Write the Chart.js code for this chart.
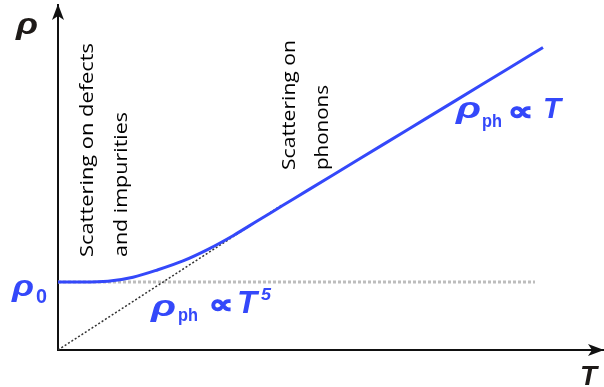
<!DOCTYPE html>
<html>
<head>
<meta charset="utf-8">
<script src="https://cdn.jsdelivr.net/npm/chart.js@4"></script>
<style>
  html, body { margin: 0; padding: 0; background: #fff; }
  #wrap { width: 604px; height: 387px; }
</style>
</head>
<body>
<div id="wrap"><canvas id="rho"></canvas></div>
<script>
// --- Data (arbitrary units) ---
const temps = [0, 0.5, 1.0, 1.5, 2.0, 2.5, 3.0, 3.5, 4.0, 4.5, 5.0, 6.0, 7.0, 8.0, 9.0, 9.7];
const rhoTotal = [1.0, 1.0, 1.01, 1.07, 1.18, 1.31, 1.48, 1.68, 1.903, 2.126, 2.349, 2.795, 3.241, 3.687, 4.134, 4.446];
const asymT = [0, 4.5];
const asymRho = [0, 2.14];
const residT = [0, 9.54];
const residRho = [1, 1];
const T_MAX = 10.9;
const RHO_MAX = 5.07;

const BLUE = 'rgb(52, 72, 250)';
const pts = (xs, ys) => xs.map((x, i) => ({ x: x, y: ys[i] }));

// text squeezed or stretched to a given advance width
function fitText(ctx, text, font, x, y, width, angle, stroke) {
    ctx.save();
    ctx.font = font;
    const sx = width / ctx.measureText(text).width;
    ctx.translate(x, y);
    if (angle) ctx.rotate(angle);
    ctx.scale(sx, 1);
    ctx.fillText(text, 0, 0);
    if (stroke) {
        ctx.strokeStyle = ctx.fillStyle;
        ctx.lineWidth = stroke;
        ctx.strokeText(text, 0, 0);
    }
    ctx.restore();
}

const RHO_FONT = 'italic bold 30px "Liberation Sans"';
const T_FONT = 'italic bold 31px "Liberation Sans"';
const SUB_FONT = 'bold 18px "Liberation Sans"';
const PROP_FONT = 'bold 26px "DejaVu Sans"';

const labelsPlugin = {
    id: 'labels',
    afterDraw(chart) {
        const ctx = chart.ctx;
        const area = chart.chartArea;
        const x0 = area.left, y0 = area.bottom;
        ctx.save();

        // axis arrows
        ctx.fillStyle = '#111';
        ctx.beginPath();
        ctx.moveTo(x0, area.top - 1);
        ctx.lineTo(x0 - 6, area.top + 15);
        ctx.lineTo(x0, area.top + 11);
        ctx.lineTo(x0 + 6, area.top + 15);
        ctx.closePath();
        ctx.fill();
        ctx.beginPath();
        ctx.moveTo(area.right + 1, y0);
        ctx.lineTo(area.right - 15, y0 - 6);
        ctx.lineTo(area.right - 11, y0);
        ctx.lineTo(area.right - 15, y0 + 6);
        ctx.closePath();
        ctx.fill();

        // axis names
        ctx.textBaseline = 'alphabetic';
        ctx.fillStyle = '#1e1a18';
        fitText(ctx, 'ρ', RHO_FONT, 16, 34, 22);
        fitText(ctx, 'T', 'italic bold 28px "Liberation Sans"', 580, 385, 17);

        // blue formula labels
        ctx.fillStyle = BLUE;
        fitText(ctx, 'ρ', RHO_FONT, 12, 296, 22);
        fitText(ctx, '0', 'bold 20px "Liberation Sans"', 36, 303, 11);

        fitText(ctx, 'ρ', RHO_FONT, 151, 316, 25);
        fitText(ctx, 'ph', SUB_FONT, 178, 321, 20);
        fitText(ctx, '∝', PROP_FONT, 209, 313, 24, 0, 1.2);
        fitText(ctx, 'T', T_FONT, 237, 313, 20);
        fitText(ctx, '5', 'italic bold 16px "Liberation Sans"', 261, 300, 10);

        fitText(ctx, 'ρ', RHO_FONT, 456, 118, 25);
        fitText(ctx, 'ph', SUB_FONT, 482, 127, 20);
        fitText(ctx, '∝', PROP_FONT, 508, 120, 25, 0, 1.2);
        fitText(ctx, 'T', 'italic bold 30px "Liberation Sans"', 543, 118, 18);

        // regime captions, rotated
        ctx.fillStyle = '#000';
        const CAP_FONT = '19px "Open Sans"';
        const up = -Math.PI / 2;
        fitText(ctx, 'Scattering on defects', CAP_FONT, 93, 257, 214, up);
        fitText(ctx, 'and impurities', CAP_FONT, 127, 257, 145, up);
        fitText(ctx, 'Scattering on', CAP_FONT, 295, 170, 130, up);
        fitText(ctx, 'phonons', CAP_FONT, 328, 170, 85, up);

        ctx.restore();
    }
};

new Chart(document.getElementById('rho'), {
    type: 'scatter',
    data: {
        datasets: [
            {
                data: pts(temps, rhoTotal),
                showLine: true,
                borderColor: BLUE,
                borderWidth: 3,
                pointRadius: 0,
                cubicInterpolationMode: 'monotone',
                order: 0
            },
            {
                data: pts(asymT, asymRho),
                showLine: true,
                borderColor: '#333',
                borderWidth: 1.5,
                borderDash: [2, 2],
                pointRadius: 0,
                order: 1
            },
            {
                data: pts(residT, residRho),
                showLine: true,
                borderColor: '#bdbdbd',
                borderWidth: 3,
                borderDash: [3, 2],
                pointRadius: 0,
                order: 2
            }
        ]
    },
    options: {
        responsive: true,
        maintainAspectRatio: false,
        animation: false,
        layout: { padding: { left: 50, top: 5, right: 1, bottom: 29 } },
        plugins: { legend: { display: false }, tooltip: { enabled: false } },
        scales: {
            x: {
                type: 'linear', min: 0, max: T_MAX,
                grid: { display: false },
                ticks: { display: false },
                border: { color: '#111', width: 2 }
            },
            y: {
                type: 'linear', min: 0, max: RHO_MAX,
                grid: { display: false },
                ticks: { display: false },
                border: { color: '#111', width: 2 }
            }
        }
    },
    plugins: [labelsPlugin]
});
</script>
</body>
</html>
